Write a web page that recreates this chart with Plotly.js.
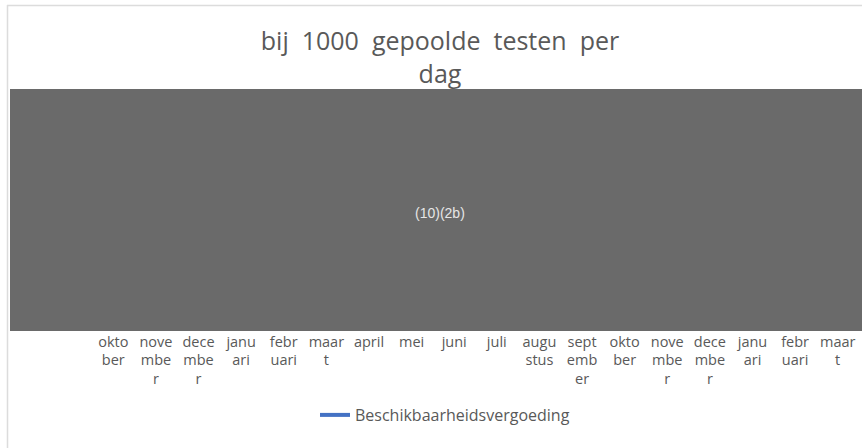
<!DOCTYPE html>
<html>
<head>
<meta charset="utf-8">
<script src="https://cdn.plot.ly/plotly-3.0.1.min.js"></script>
<style>html,body{margin:0;padding:0;background:#fff;}#chart{width:862px;height:448px;}</style>
</head>
<body>
<div id="chart"></div>
<script>
// Month categories (two seasons), labels wrapped as in the original
const monthLabels = [
  "okto<br>ber", "nove<br>mbe<br>r", "dece<br>mbe<br>r", "janu<br>ari", "febr<br>uari", "maar<br>t",
  "april", "mei", "juni", "juli", "augu<br>stus", "sept<br>emb<br>er",
  "okto<br>ber", "nove<br>mbe<br>r", "dece<br>mbe<br>r", "janu<br>ari", "febr<br>uari", "maar<br>t"
];
const monthIndex = [0,1,2,3,4,5,6,7,8,9,10,11,12,13,14,15,16,17];
// Series values are redacted in the source (hidden under the grey block)
const beschikbaarheidsvergoeding = [null,null,null,null,null,null,null,null,null,null,null,null,null,null,null,null,null,null];
const seriesName = "Beschikbaarheidsvergoeding";
const titleText = "bij&nbsp; 1000&nbsp; gepoolde&nbsp; testen&nbsp; per<br>dag";
const redactionText = "(10)(2b)";

const W = 862, H = 448;
const mL = 92, mR = 3, mT = 89, mB = 117;
const pw = W - mL - mR, ph = H - mT - mB;
const px = v => (v - mL) / pw;
const py = v => (H - mB - v) / ph;

const data = [{
  type: 'scatter', mode: 'lines',
  x: monthIndex, y: beschikbaarheidsvergoeding,
  name: seriesName,
  line: {color: '#4472C4', width: 4},
  showlegend: true
}];

const layout = {
  width: W, height: H,
  margin: {l: mL, r: mR, t: mT, b: mB},
  paper_bgcolor: '#ffffff', plot_bgcolor: '#ffffff',
  font: {family: 'Open Sans, sans-serif', color: '#595959'},
  title: {
    text: titleText,
    font: {size: 25, color: '#595959', family: 'Open Sans, sans-serif'},
    x: px(440), xanchor: 'center', xref: 'paper',
    y: 1 - 50 / H, yanchor: 'middle'
  },
  xaxis: {
    tickvals: monthIndex, ticktext: monthLabels,
    range: [-0.5, 17.5], tickangle: 0,
    showgrid: false, zeroline: false, showline: false, ticks: '',
    tickfont: {size: 14.5, color: '#595959', family: 'Open Sans, sans-serif'},
    fixedrange: true
  },
  yaxis: {
    range: [0, 1], visible: false, fixedrange: true
  },
  showlegend: true,
  legend: {
    orientation: 'h', x: px(445), xanchor: 'center', xref: 'paper',
    y: py(415), yanchor: 'middle',
    font: {size: 16, color: '#595959', family: 'Open Sans, sans-serif'},
    bgcolor: 'rgba(0,0,0,0)'
  },
  shapes: [
    {type: 'rect', xref: 'paper', yref: 'paper', layer: 'above',
     x0: px(10), x1: px(866), y0: py(331), y1: py(89),
     fillcolor: '#6a6a6a', line: {width: 0}},
    {type: 'line', xref: 'paper', yref: 'paper',
     x0: px(7), x1: px(866), y0: py(5.5), y1: py(5.5),
     line: {color: '#dcdcdc', width: 1.5}},
    {type: 'line', xref: 'paper', yref: 'paper',
     x0: px(7.5), x1: px(7.5), y0: py(5), y1: py(450),
     line: {color: '#dcdcdc', width: 1.5}}
  ],
  annotations: [{
    text: redactionText, xref: 'paper', yref: 'paper',
    x: px(440), y: py(213), showarrow: false,
    font: {size: 14, color: '#e6e6e6', family: 'Liberation Sans, Arial, sans-serif'}
  }]
};

Plotly.newPlot('chart', data, layout, {staticPlot: true, displayModeBar: false});
</script>
</body>
</html>
